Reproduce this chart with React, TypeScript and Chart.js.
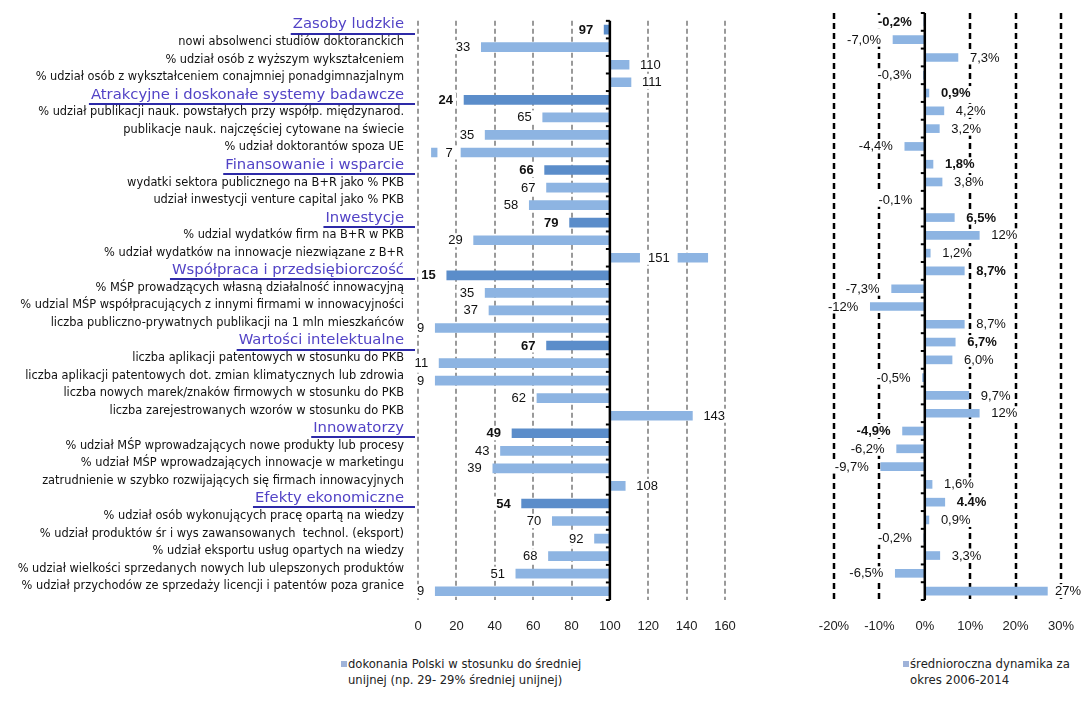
import React, { useEffect, useRef } from 'react';
import { Chart, registerables } from 'chart.js';

Chart.register(...registerables);

// ---------------- DATA ----------------
const sectionNames = [
  'Zasoby ludzkie',
  'Atrakcyjne i doskonałe systemy badawcze',
  'Finansowanie i wsparcie',
  'Inwestycje',
  'Współpraca i przedsiębiorczość',
  'Wartości intelektualne',
  'Innowatorzy',
  'Efekty ekonomiczne',
];

const rowLabels = [
  'Zasoby ludzkie',
  'nowi absolwenci studiów doktoranckich',
  '% udział osób z wyższym wykształceniem',
  '% udział osób z wykształceniem conajmniej ponadgimnazjalnym',
  'Atrakcyjne i doskonałe systemy badawcze',
  '% udział publikacji nauk. powstałych przy współp. międzynarod.',
  'publikacje nauk. najczęściej cytowane na świecie',
  '% udział doktorantów spoza UE',
  'Finansowanie i wsparcie',
  'wydatki sektora publicznego na B+R jako % PKB',
  'udział inwestycji venture capital jako % PKB',
  'Inwestycje',
  '% udzial wydatków firm na B+R w PKB',
  '% udział wydatków na innowacje niezwiązane z B+R',
  'Współpraca i przedsiębiorczość',
  '% MŚP prowadzących własną działalność innowacyjną',
  '% udzial MŚP współpracujących z innymi firmami w innowacyjności',
  'liczba publiczno-prywatnych publikacji na 1 mln mieszkańców',
  'Wartości intelektualne',
  'liczba aplikacji patentowych w stosunku do PKB',
  'liczba aplikacji patentowych dot. zmian klimatycznych lub zdrowia',
  'liczba nowych marek/znaków firmowych w stosunku do PKB',
  'liczba zarejestrowanych wzorów w stosunku do PKB',
  'Innowatorzy',
  '% udział MŚP wprowadzających nowe produkty lub procesy',
  '% udział MŚP wprowadzających innowacje w marketingu',
  'zatrudnienie w szybko rozwijających się firmach innowacyjnych',
  'Efekty ekonomiczne',
  '% udział osób wykonujących pracę opartą na wiedzy',
  '% udział produktów śr i wys zawansowanych  technol. (eksport)',
  '% udział eksportu usług opartych na wiedzy',
  '% udział wielkości sprzedanych nowych lub ulepszonych produktów',
  '% udział przychodów ze sprzedaży licencji i patentów poza granice',
];

// Poland vs EU average (EU = 100)
const performance = [
  97, 33, 110, 111,
  24, 65, 35, 7,
  66, 67, 58,
  79, 29, 151,
  15, 35, 37, 9,
  67, 11, 9, 62, 143,
  49, 43, 39, 108,
  54, 70, 92, 68, 51, 9,
];

// average annual growth 2006-2014 (%)
const dynamics = [
  -0.2, -7.0, 7.3, -0.3,
  0.9, 4.2, 3.2, -4.4,
  1.8, 3.8, -0.1,
  6.5, 12, 1.2,
  8.7, -7.3, -12, 8.7,
  6.7, 6.0, -0.5, 9.7, 12,
  -4.9, -6.2, -9.7, 1.6,
  4.4, 0.9, -0.2, 3.3, -6.5, 27,
];

const dynamicsLabels = [
  '-0,2%', '-7,0%', '7,3%', '-0,3%',
  '0,9%', '4,2%', '3,2%', '-4,4%',
  '1,8%', '3,8%', '-0,1%',
  '6,5%', '12%', '1,2%',
  '8,7%', '-7,3%', '-12%', '8,7%',
  '6,7%', '6,0%', '-0,5%', '9,7%', '12%',
  '-4,9%', '-6,2%', '-9,7%', '1,6%',
  '4.4%', '0,9%', '-0,2%', '3,3%', '-6,5%', '27%',
];

const leftTicks = [0, 20, 40, 60, 80, 100, 120, 140, 160];
const rightTicks = [-20, -10, 0, 10, 20, 30];

const legendLeft = ['dokonania Polski w stosunku do średniej', 'unijnej (np. 29- 29% średniej unijnej)'];
const legendRight = ['średnioroczna dynamika za', 'okres 2006-2014'];

// ---------------- STYLE ----------------
const LIGHT = '#8db4e2';
const DARK = '#5b8dca';
const LABEL_FONT = "'DejaVu Sans', Verdana, sans-serif";
const NUM_FONT = "'Liberation Sans', Arial, sans-serif";
const HEADER_SIZE = 14.8;
const ITEM_SIZE = 11.4;
const TICK_PAD = 14;
const LABEL_OFFSET = -5;

const isSection = (i: number) => sectionNames.includes(rowLabels[i]);

function makeGridPlugin(axisValue: number, color: string, width: number, dash: number[]) {
  return {
    id: 'customGrid',
    beforeDatasetsDraw(chart: any) {
      const { ctx, chartArea } = chart;
      const xs = chart.scales.x;
      ctx.save();
      ctx.strokeStyle = color;
      ctx.lineWidth = width;
      ctx.setLineDash(dash);
      xs.ticks.forEach((t: any) => {
        if (t.value === axisValue) return;
        const x = Math.round(xs.getPixelForValue(t.value));
        ctx.beginPath();
        ctx.moveTo(x, chartArea.top);
        ctx.lineTo(x, chartArea.bottom);
        ctx.stroke();
      });
      ctx.restore();
    },
    afterDatasetsDraw(chart: any) {
      const { ctx, chartArea } = chart;
      const xs = chart.scales.x;
      const x = xs.getPixelForValue(axisValue);
      ctx.save();
      ctx.setLineDash([]);
      ctx.strokeStyle = '#000';
      ctx.lineWidth = 2.5;
      ctx.beginPath();
      ctx.moveTo(x, chartArea.top);
      ctx.lineTo(x, chartArea.bottom);
      ctx.stroke();
      const n = chart.data.labels.length;
      const step = (chartArea.bottom - chartArea.top) / n;
      ctx.lineWidth = 2;
      for (let k = 0; k <= n; k++) {
        const y = chartArea.top + k * step;
        ctx.beginPath();
        ctx.moveTo(x - 4, y);
        ctx.lineTo(x, y);
        ctx.stroke();
      }
      ctx.restore();
    },
  };
}

function makeValueLabels(values: number[], texts: string[], base: number, gap: number, insideBelow: number, insideAbove: number) {
  return {
    id: 'valueLabels',
    afterDatasetsDraw(chart: any) {
      const { ctx } = chart;
      const xs = chart.scales.x;
      const ys = chart.scales.y;
      ctx.save();
      ctx.textBaseline = 'middle';
      ctx.textAlign = 'left';
      values.forEach((v, i) => {
        const bold = isSection(i);
        ctx.font = `${bold ? 'bold ' : ''}13px ${NUM_FONT}`;
        const text = texts[i];
        const w = ctx.measureText(text).width;
        const y = ys.getPixelForValue(i);
        const start = xs.getPixelForValue(base);
        const end = xs.getPixelForValue(v);
        let left: number;
        let pad = 3;
        if (v > insideAbove) {
          left = (start + end) / 2 - w / 2;
          pad = 8;
        } else if (v < insideBelow) {
          left = end + 14;
          pad = 8;
        } else if (v < base) {
          left = end - gap - w;
        } else {
          left = end + gap;
        }
        left = Math.min(left, chart.width - 7 - w);
        ctx.fillStyle = '#fff';
        ctx.fillRect(left - pad, y - 7, w + 2 * pad, 14);
        ctx.fillStyle = '#111';
        ctx.fillText(text, left, y + 0.5);
      });
      ctx.restore();
    },
  };
}

const underlinePlugin = {
  id: 'headerUnderline',
  afterDraw(chart: any) {
    const { ctx, chartArea } = chart;
    const ys = chart.scales.y;
    ctx.save();
    ctx.font = `${HEADER_SIZE}px ${LABEL_FONT}`;
    ctx.strokeStyle = '#2d2aa8';
    ctx.lineWidth = 2;
    rowLabels.forEach((lab, i) => {
      if (!isSection(i)) return;
      const w = ctx.measureText(lab).width;
      const right = chartArea.left - TICK_PAD;
      const y = Math.round(ys.getPixelForValue(i) + LABEL_OFFSET + 9);
      ctx.beginPath();
      ctx.moveTo(right - w - 2, y);
      ctx.lineTo(chartArea.left - 3, y);
      ctx.stroke();
    });
    ctx.restore();
  },
};

function tickSetter(list: number[]) {
  return (scale: any) => {
    scale.ticks = list.map((v) => ({ value: v }));
  };
}

const xGrid = { display: false, drawTicks: true, tickLength: 19 };

export default function App() {
  const leftRef = useRef<HTMLCanvasElement>(null);
  const rightRef = useRef<HTMLCanvasElement>(null);

  useEffect(() => {
    const left = new Chart(leftRef.current as HTMLCanvasElement, {
      type: 'bar',
      data: {
        labels: rowLabels,
        datasets: [
          {
            data: performance.map((v) => [100, v]) as any,
            backgroundColor: rowLabels.map((_, i) => (isSection(i) ? DARK : LIGHT)),
            barThickness: 9,
            borderWidth: 0,
          },
        ],
      },
      options: {
        indexAxis: 'y',
        responsive: false,
        animation: false,
        events: [],
        layout: { padding: { left: 0, right: 45, top: 11, bottom: 0 } },
        plugins: { legend: { display: false }, tooltip: { enabled: false } },
        scales: {
          x: {
            type: 'linear',
            min: 0,
            max: 160,
            afterBuildTicks: tickSetter(leftTicks),
            afterFit: (s: any) => {
              s.height = 45;
            },
            grid: xGrid,
            border: { display: false },
            ticks: {
              padding: 0,
              color: '#222',
              font: { family: NUM_FONT, size: 13 },
            },
          },
          y: {
            afterFit: (s: any) => {
              s.width = 418;
            },
            grid: { display: false, drawTicks: false },
            border: { display: false },
            ticks: {
              autoSkip: false,
              padding: TICK_PAD,
              labelOffset: LABEL_OFFSET,
              color: (c: any) => (isSection(c.index) ? '#5243c6' : '#111'),
              font: (c: any) =>
                isSection(c.index)
                  ? { family: LABEL_FONT, size: HEADER_SIZE }
                  : { family: LABEL_FONT, size: ITEM_SIZE },
            },
          },
        },
      },
      plugins: [
        makeGridPlugin(100, '#9a9a9a', 2, [5, 3]),
        makeValueLabels(performance, performance.map(String), 100, 11, 8, 150),
        underlinePlugin,
      ],
    } as any);

    const right = new Chart(rightRef.current as HTMLCanvasElement, {
      type: 'bar',
      data: {
        labels: rowLabels,
        datasets: [
          {
            data: dynamics,
            backgroundColor: LIGHT,
            barThickness: 8,
            borderWidth: 0,
          },
        ],
      },
      options: {
        indexAxis: 'y',
        responsive: false,
        animation: false,
        events: [],
        layout: { padding: { left: 44, right: 27, top: 13, bottom: 0 } },
        plugins: { legend: { display: false }, tooltip: { enabled: false } },
        scales: {
          x: {
            type: 'linear',
            min: -20,
            max: 30,
            afterBuildTicks: tickSetter(rightTicks),
            afterFit: (s: any) => {
              s.height = 45;
            },
            grid: xGrid,
            border: { display: false },
            ticks: {
              padding: 0,
              color: '#222',
              font: { family: NUM_FONT, size: 13 },
              callback: (v: any) => `${v}%`,
            },
          },
          y: { display: false },
        },
      },
      plugins: [
        makeGridPlugin(0, '#000', 2.5, [6, 4]),
        makeValueLabels(dynamics, dynamicsLabels, 0, 12, -1000, 1000),
      ],
    } as any);

    return () => {
      left.destroy();
      right.destroy();
    };
  }, []);

  const legendText: React.CSSProperties = {
    fontFamily: LABEL_FONT,
    color: '#222',
    lineHeight: '16px',
    whiteSpace: 'nowrap',
  };
  const square: React.CSSProperties = {
    position: 'absolute',
    left: -7,
    top: 5,
    width: 6,
    height: 6,
    background: '#9fb3d9',
  };

  return (
    <div style={{ position: 'absolute', left: 0, top: 0, width: 1088, height: 707, background: '#fff', overflow: 'hidden' }}>
      <canvas ref={leftRef} width={770} height={645} style={{ position: 'absolute', left: 0, top: 0, width: 770, height: 645 }} />
      <canvas ref={rightRef} width={298} height={645} style={{ position: 'absolute', left: 790, top: 0, width: 298, height: 645 }} />
      <div style={{ position: 'absolute', left: 348, top: 656, fontSize: 11.6, ...legendText }}>
        <div style={square} />
        <div>{legendLeft[0]}</div>
        <div>{legendLeft[1]}</div>
      </div>
      <div style={{ position: 'absolute', left: 910, top: 656, fontSize: 11.7, ...legendText }}>
        <div style={square} />
        <div>{legendRight[0]}</div>
        <div>{legendRight[1]}</div>
      </div>
    </div>
  );
}
